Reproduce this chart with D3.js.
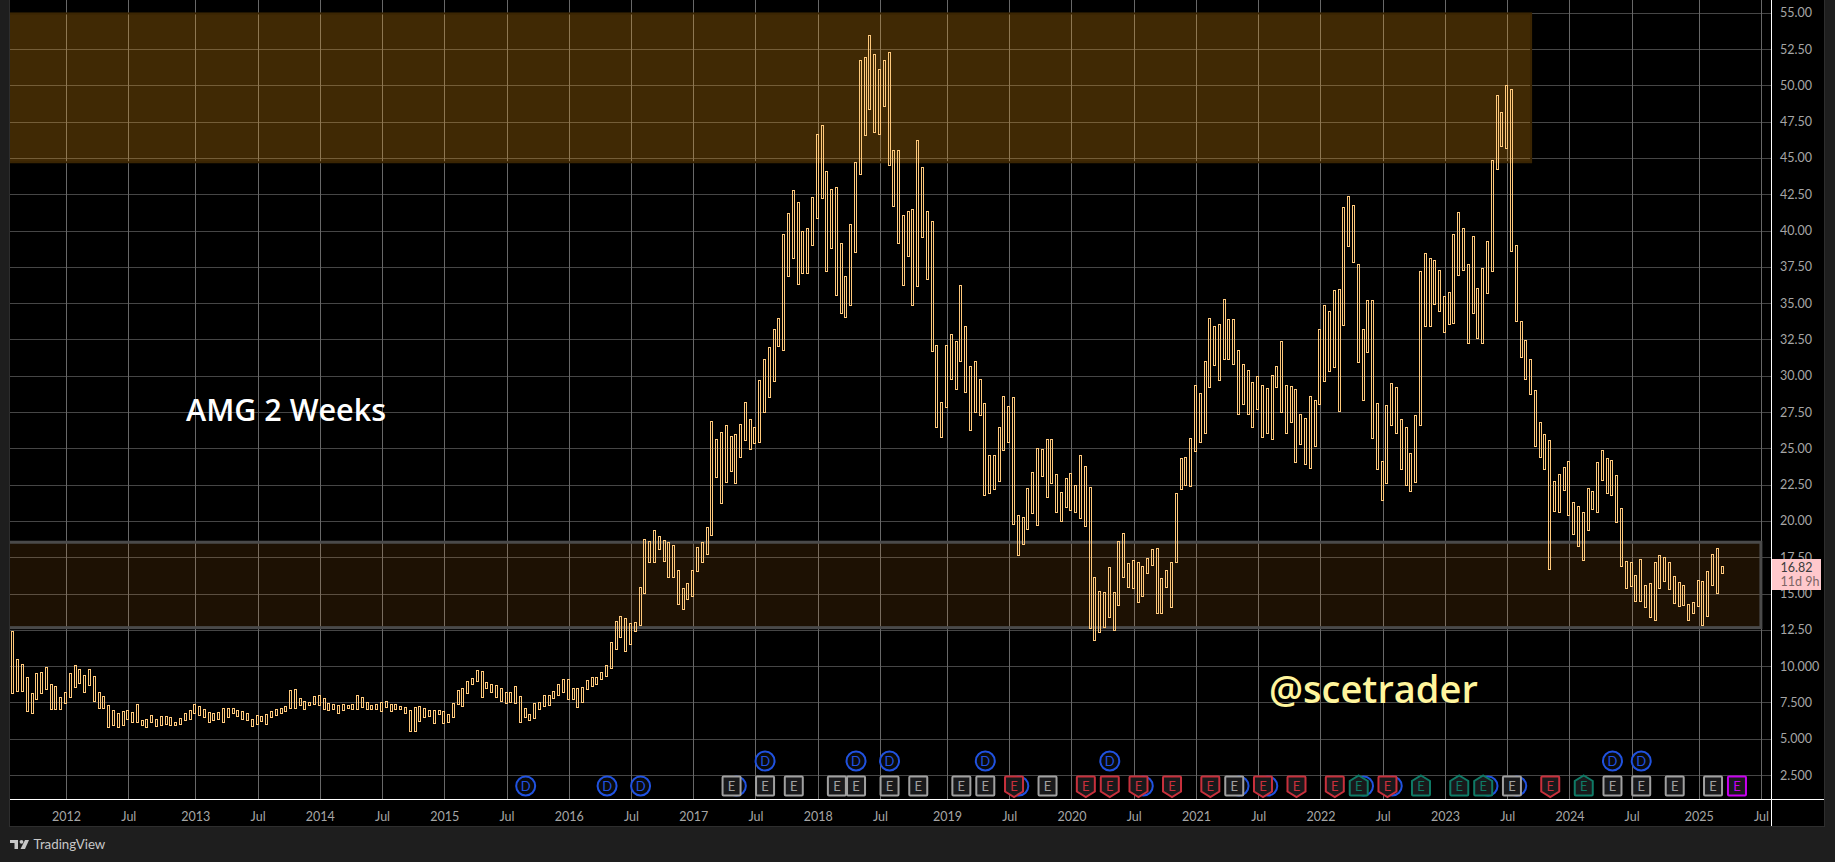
<!DOCTYPE html>
<html>
<head>
<meta charset="utf-8">
<script src="https://cdnjs.cloudflare.com/ajax/libs/d3/7.8.5/d3.min.js"></script>
<style>
html, body { margin: 0; padding: 0; background: #1e1e1e; overflow: hidden; }
svg { display: block; }
text { font-family: Lato, "Noto Sans", sans-serif; }
</style>
</head>
<body>
<svg id="chart" width="1835" height="862"></svg>
<script>
// 2 week bars
const barHigh = [
  12.39,10.46,10.12,9.22,8.12,9.50,9.57,9.91,8.74,8.60,7.85,8.19,9.50,10.05,9.77,9.36,9.77,9.29,8.19,7.91,
  7.30,6.95,6.74,6.88,6.95,6.81,7.36,6.26,6.33,6.61,6.33,6.54,6.54,6.47,6.17,6.40,6.74,6.95,7.36,7.23,
  7.02,6.81,6.74,6.81,7.09,7.09,7.09,6.95,6.88,6.74,6.33,6.61,6.54,6.68,6.88,7.02,7.09,7.23,8.33,8.40,
  7.78,7.57,7.50,7.91,7.98,7.78,7.43,7.36,7.30,7.36,7.30,7.36,7.98,7.85,7.50,7.30,7.36,7.50,7.57,7.36,
  7.36,7.23,7.16,6.95,7.16,7.23,7.09,6.95,6.95,6.95,6.88,6.68,7.43,8.33,8.47,8.95,9.15,9.70,9.64,8.88,
  8.74,8.67,8.47,8.19,8.19,8.60,7.91,7.09,6.68,7.43,7.50,7.98,7.98,8.26,8.74,9.09,9.09,8.47,8.47,8.53,
  9.02,9.22,9.22,9.57,10.05,11.63,13.08,13.45,13.29,12.94,13.01,15.42,18.73,18.59,19.35,18.94,18.66,18.52,18.32,16.59,
  15.35,15.70,16.59,18.18,18.52,19.56,26.86,25.62,26.10,26.58,25.85,25.98,26.65,28.17,27.00,26.45,29.68,31.13,31.96,33.20,
  33.95,39.74,41.19,42.77,41.94,39.95,40.15,42.29,46.63,47.25,44.08,42.84,42.98,39.12,36.85,40.43,44.70,51.72,51.93,53.45,
  52.14,51.10,51.72,52.28,45.52,45.52,41.05,41.32,41.46,46.21,44.35,41.32,40.63,32.09,28.17,32.09,32.85,32.37,36.23,33.40,
  30.65,31.00,29.75,28.10,24.51,24.51,26.45,28.58,27.89,28.51,20.38,20.24,22.24,23.34,25.00,24.93,25.62,25.62,23.21,21.97,
  22.93,23.28,22.45,24.51,23.76,22.31,16.11,15.15,15.08,16.80,15.08,18.59,19.14,17.08,17.28,17.14,16.87,17.42,18.04,18.11,
  16.04,16.59,17.14,21.90,24.31,24.38,25.69,29.34,28.79,31.00,33.95,33.40,33.54,35.26,33.88,33.88,31.75,30.78,30.37,29.54,
  29.96,29.34,29.13,30.03,30.65,32.37,29.34,29.27,29.06,27.34,27.07,28.58,28.30,33.20,34.85,34.44,35.88,35.95,41.60,42.36,
  41.74,37.67,33.20,35.19,35.19,28.10,24.10,27.96,29.48,29.20,27.00,26.45,24.65,27.27,37.19,38.43,38.09,37.95,37.26,35.47,
  35.74,39.74,41.25,40.15,37.67,39.60,36.02,37.40,39.26,44.84,49.31,48.14,50.00,49.73,38.98,33.75,32.44,31.13,28.99,26.79,
  25.96,25.55,22.72,23.21,23.69,24.10,21.28,21.00,20.59,22.24,22.03,24.03,24.86,24.31,24.17,23.14,20.86,17.21,17.14,16.25,
  17.35,15.56,15.70,17.14,17.63,17.49,17.14,16.18,15.77,15.56,14.25,14.39,15.90,15.84,16.53,17.70,18.11,16.87
];
const barLow = [
  8.12,8.30,8.26,6.93,6.79,7.71,8.17,8.40,7.02,7.02,7.02,7.48,7.85,8.58,8.86,8.24,8.72,7.62,7.13,7.13,
  5.83,5.96,5.83,5.96,6.33,6.12,6.12,5.96,5.83,6.17,5.89,5.92,6.03,5.96,5.92,6.03,6.28,6.38,6.74,6.61,
  6.51,6.17,6.31,6.38,6.17,6.51,6.74,6.58,6.38,6.26,5.89,6.03,6.24,6.03,6.47,6.65,6.77,6.93,7.13,7.13,
  7.30,7.07,7.30,7.36,7.34,7.07,6.95,7.07,6.79,6.95,7.09,7.07,7.07,7.20,7.07,7.07,7.02,6.93,7.16,6.93,
  7.07,7.02,6.74,5.55,5.55,6.24,6.51,6.58,6.10,6.68,6.10,6.17,6.51,7.41,7.27,8.12,8.74,8.95,7.89,8.47,
  8.24,7.85,7.62,7.48,7.55,7.43,6.12,6.51,6.26,6.40,7.02,7.27,7.30,7.78,7.98,8.24,7.71,7.71,7.16,7.55,
  8.40,8.65,8.74,9.09,9.29,9.84,11.15,11.98,11.01,11.50,12.39,12.81,15.06,17.17,17.14,18.04,17.26,16.11,16.11,14.25,
  13.91,14.60,14.80,16.53,17.14,17.70,19.00,23.05,21.21,22.66,23.41,22.59,24.38,25.57,24.93,25.34,25.41,27.52,28.51,29.61,
  32.02,31.75,36.85,38.09,36.30,37.05,37.05,38.98,40.84,42.22,37.19,38.77,35.54,34.30,34.02,34.85,38.50,43.87,46.56,48.35,
  46.77,46.63,48.56,44.49,41.67,39.12,36.23,38.22,34.85,36.16,39.53,36.64,31.68,26.45,25.76,27.82,29.75,29.06,31.00,28.86,
  26.29,27.52,27.27,21.76,21.90,22.17,22.77,24.86,25.41,19.76,17.63,18.38,19.42,20.52,19.69,23.07,21.62,22.59,20.59,19.97,
  20.98,20.73,20.59,20.18,19.62,12.60,11.77,12.32,12.67,13.36,12.46,14.18,16.11,15.42,15.35,14.39,14.80,16.39,16.94,13.63,
  13.63,15.47,14.05,17.14,22.17,22.49,22.38,24.79,25.41,26.03,29.20,30.72,29.68,31.13,31.13,30.78,27.34,28.03,27.34,26.45,
  27.69,25.76,26.03,25.62,29.20,27.48,26.03,26.79,24.08,25.27,23.90,23.62,25.14,28.03,29.61,30.30,30.58,27.55,33.47,38.91,
  37.81,30.92,28.30,31.61,25.69,23.55,21.42,22.59,26.58,26.08,23.55,22.45,22.04,22.66,26.58,33.40,33.40,34.92,34.44,32.99,
  33.54,33.61,36.92,37.26,32.23,34.30,32.58,32.23,35.68,37.19,44.22,45.80,45.66,38.57,33.75,31.27,29.75,28.72,25.14,24.38,
  23.55,16.66,20.66,20.59,22.10,20.38,19.07,18.25,17.28,19.35,20.80,20.59,22.79,21.90,21.76,19.90,16.87,15.35,15.49,14.46,
  14.46,14.05,13.36,13.15,15.35,15.84,15.29,14.32,14.11,14.18,13.15,13.63,14.11,12.81,13.43,15.56,15.01,16.39
];

const priceTicks = [55,52.5,50,47.5,45,42.5,40,37.5,35,32.5,30,27.5,25,22.5,20,17.5,15,12.5,10,7.5,5,2.5];
const priceLabels = ["55.00","52.50","50.00","47.50","45.00","42.50","40.00","37.50","35.00","32.50","30.00","27.50","25.00","22.50","20.00","17.50","15.00","12.50","10.000","7.500","5.000","2.500"];

const timeTickBars = [11,24,38,51,64,77,90,103,116,129,142,155,168,181,195,208,221,234,247,260,273,286,299,312,325,338,352,365];
const timeTickLabels = ["2012","Jul","2013","Jul","2014","Jul","2015","Jul","2016","Jul","2017","Jul","2018","Jul","2019","Jul","2020","Jul","2021","Jul","2022","Jul","2023","Jul","2024","Jul","2025","Jul"];

const zonePrices = [[54.95,44.7,317],[18.53,12.65,365]]; // top, bottom, last bar

const dividendLow = [107,124,131,151,210,236,256,262,282,288,308,314];
const dividendHigh = [157,176,183,203,229,334,340];
const earnGray = [150,157,163,172,176,183,189,198,203,216,255,313,334,340,347,355];
const earnRed = [209,224,229,235,242,250,261,268,276,287,321];
const earnGreen = [281,294,302,307,328];
const earnNext = [360];

const lastPrice = "16.82";
const countdown = "11d 9h";

const PANE = { left: 10, right: 1771, top: 0, bottom: 799, outerRight: 1824, outerBottom: 826 };
const svg = d3.select("#chart");

const x = d3.scaleLinear().domain([0, 357]).range([13.4, 1722.6]);
const y = d3.scaleLinear().domain([2.5, 55]).range([775, 12.7]);

function drawFrame() {
    svg.append("rect")
        .attr("x", PANE.left).attr("y", 0)
        .attr("width", PANE.outerRight - PANE.left).attr("height", PANE.outerBottom)
        .attr("fill", "#000");
}

function drawAxes() {
    const gridY = svg.append("g")
        .attr("transform", `translate(${PANE.right},0)`)
        .call(d3.axisRight(y).tickValues(priceTicks).tickSize(0).tickPadding(9)
            .tickFormat((d, i) => priceLabels[i]));
    gridY.select(".domain").remove();
    gridY.selectAll("text").attr("fill", "#a6a6a6").style("font-size", "12.5px");
    gridY.selectAll("line")
        .attr("x1", PANE.left - PANE.right).attr("x2", 0)
        .attr("stroke", "#464646").attr("shape-rendering", "crispEdges");

    const gridX = svg.append("g")
        .attr("transform", `translate(0,${PANE.bottom})`)
        .call(d3.axisBottom(x).tickValues(timeTickBars).tickSize(0).tickPadding(13)
            .tickFormat((d, i) => timeTickLabels[i]));
    gridX.select(".domain").remove();
    gridX.selectAll("text").attr("fill", "#a6a6a6").style("font-size", "12.5px");
    gridX.selectAll("line")
        .attr("y1", PANE.top - PANE.bottom).attr("y2", 0)
        .attr("stroke", "#686868").attr("shape-rendering", "crispEdges");
}

function drawZones() {
    const colors = [
        { fill: "rgba(255,165,15,0.25)", stroke: "#3a2503", width: 2 },
        { fill: "rgba(255,150,30,0.115)", stroke: "#4a4a4a", width: 3 },
    ];
    svg.selectAll("rect.zone").data(zonePrices).join("rect")
        .attr("class", "zone")
        .attr("x", PANE.left - 4)
        .attr("y", d => y(d[0]))
        .attr("width", d => x(d[2]) - PANE.left + 4)
        .attr("height", d => y(d[1]) - y(d[0]))
        .attr("fill", (d, i) => colors[i].fill)
        .attr("stroke", (d, i) => colors[i].stroke)
        .attr("stroke-width", (d, i) => colors[i].width);

    // the zones run out of the pane on the left
    svg.append("rect").attr("x", 0).attr("y", 0)
        .attr("width", PANE.left).attr("height", 862).attr("fill", "#1e1e1e");
}

function drawBars() {
    svg.append("g").selectAll("rect").data(barHigh).join("rect")
        .attr("x", (d, i) => Math.round(x(i)) - 1.5)
        .attr("width", 2)
        .attr("y", d => Math.round(y(d)) + 0.5)
        .attr("height", (d, i) => Math.round(y(barLow[i])) - Math.round(y(d)))
        .attr("fill", "none")
        .attr("stroke", "#ffc97c")
        .attr("stroke-width", 1);
}

function drawDividends(bars, cy) {
    const g = svg.append("g").selectAll("g").data(bars).join("g")
        .attr("transform", d => `translate(${x(d)},${cy})`);
    g.append("circle").attr("r", 9.5)
        .attr("fill", "#0a0a0a").attr("stroke", "#2052e0").attr("stroke-width", 2);
    g.append("text").text("D")
        .attr("text-anchor", "middle").attr("dy", 4.5)
        .attr("fill", "#2052e0").style("font-size", "13px");
}

function drawEarnings(bars, color, shape) {
    const paths = {
        square: "M-8,-9.5H8Q9,-9.5 9,-8.5V8.5Q9,9.5 8,9.5H-8Q-9,9.5 -9,8.5V-8.5Q-9,-9.5 -8,-9.5Z",
        down: "M-8,-9.5H8Q9,-9.5 9,-8.5V5.5L0,11L-9,5.5V-8.5Q-9,-9.5 -8,-9.5Z",
        up: "M0,-10.5L9,-5V8.5Q9,9.5 8,9.5H-8Q-9,9.5 -9,8.5V-5Z",
    };
    const g = svg.append("g").selectAll("g").data(bars).join("g")
        .attr("transform", d => `translate(${x(d)},786)`);
    g.append("path").attr("d", paths[shape])
        .attr("fill", "#19191b").attr("stroke", color).attr("stroke-width", 2);
    g.append("text").text("E")
        .attr("text-anchor", "middle").attr("dy", 4.5)
        .attr("fill", color).style("font-size", "13px");
}

function drawNotes() {
    svg.append("text").text("AMG 2 Weeks")
        .attr("x", 186).attr("y", 421)
        .attr("fill", "#fff").attr("font-weight", 600)
        .style("font-family", "'Open Sans'").style("font-size", "30.5px");
    svg.append("text").text("@scetrader")
        .attr("x", 1269).attr("y", 703)
        .attr("fill", "#fff59d").attr("font-weight", 600)
        .style("font-family", "'Open Sans'").style("font-size", "38px");
}

function drawFurniture() {
    // pane border
    svg.append("rect").attr("x", PANE.left - 0.5).attr("y", -1)
        .attr("width", PANE.outerRight - PANE.left + 1).attr("height", PANE.outerBottom + 1.5)
        .attr("fill", "none").attr("stroke", "#2e2e2e");

    // axis lines
    svg.append("line").attr("x1", PANE.left).attr("x2", PANE.outerRight)
        .attr("y1", PANE.bottom + 0.5).attr("y2", PANE.bottom + 0.5).attr("stroke", "#fff");
    svg.append("line").attr("x1", PANE.right + 0.5).attr("x2", PANE.right + 0.5)
        .attr("y1", 0).attr("y2", PANE.outerBottom).attr("stroke", "#fff");

    // last price tag
    svg.append("rect").attr("x", PANE.right + 1).attr("y", 559)
        .attr("width", 49).attr("height", 31).attr("fill", "#ffc8cc");
    svg.append("text").text(lastPrice).attr("x", 1780.5).attr("y", 571.7)
        .attr("fill", "#3c3c3c").style("font-size", "12.5px");
    svg.append("text").text(countdown).attr("x", 1780.5).attr("y", 585.7)
        .attr("fill", "#7d6565").style("font-size", "12.5px");

    // TradingView footer
    const logo = svg.append("g").attr("fill", "#c8c8c8");
    logo.append("path").attr("d", "M10,840H18V849H14.5V843H10Z");
    logo.append("circle").attr("cx", 21.5).attr("cy", 841.8).attr("r", 1.9);
    logo.append("path").attr("d", "M25,840H29L25,849H20.5Z");
    svg.append("text").text("TradingView").attr("x", 33.5).attr("y", 849)
        .attr("fill", "#c8c8c8").style("font-size", "13.3px");
}

drawFrame();
drawAxes();
drawZones();
drawBars();
drawDividends(dividendLow, 786);
drawDividends(dividendHigh, 761);
drawEarnings(earnGray, "#a0a0a0", "square");
drawEarnings(earnRed, "#c8303c", "down");
drawEarnings(earnGreen, "#0f7a66", "up");
drawEarnings(earnNext, "#c800f0", "square");
drawNotes();
drawFurniture();
</script>
</body>
</html>
